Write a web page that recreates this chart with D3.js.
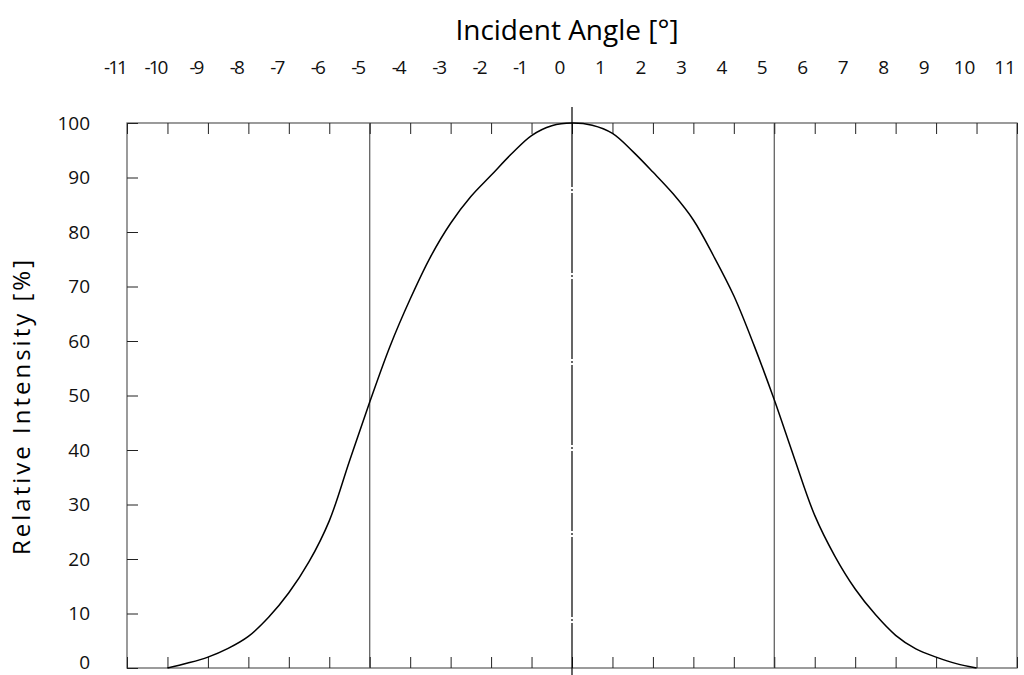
<!DOCTYPE html>
<html>
<head>
<meta charset="utf-8">
<script src="https://cdn.jsdelivr.net/npm/d3@7"></script>
<style>
  body { margin: 0; background: #fff; }
  svg { display: block; font-family: "Open Sans", "Noto Sans", sans-serif; }
</style>
</head>
<body>
<svg id="chart" width="1024" height="675"></svg>
<script>
// data
var angles = [-10, -9.5, -9, -8.5, -8, -7.5, -7, -6.5, -6, -5.5, -5, -4.5, -4, -3.5, -3, -2.5, -2, -1.5, -1, -0.5,
              0, 0.5, 1, 1.5, 2, 2.5, 3, 3.5, 4, 4.5, 5, 5.5, 6, 6.5, 7, 7.5, 8, 8.5, 9, 9.5, 10];
var intensity = [0, 0.9, 2.0, 3.6, 5.8, 9.3, 13.8, 19.5, 27, 38, 48.8, 59, 67.7, 75.4, 81.6, 86.5, 90.4, 94.3, 97.7, 99.5,
                 100, 99.6, 98.1, 94.8, 91, 87, 82.2, 75.6, 68.3, 59.2, 49.2, 38.4, 28, 20.5, 14.5, 9.8, 6, 3.5, 2, 0.8, 0];
var xTicks = d3.range(-11, 12);
var yTicks = d3.range(0, 101, 10);
var guideAngles = [-5, 5];
var xTitle = "Incident Angle [°]";
var yTitle = "Relative Intensity [%]";

var svg = d3.select("#chart");

var plotLeft = 127, plotRight = 1017, plotTop = 123, plotBottom = 668;

var xScale = d3.scaleLinear().domain([-11, 11]).range([plotLeft, plotRight]);
var yScale = d3.scaleLinear().domain([0, 100]).range([plotBottom, plotTop]);

// guide lines at +-5
svg.selectAll(".guide")
    .data(guideAngles)
    .enter().append("line")
    .attr("x1", d => xScale(d)).attr("x2", d => xScale(d))
    .attr("y1", plotTop).attr("y2", plotBottom)
    .attr("stroke", "#555").attr("stroke-width", 1.2);

// frame
svg.append("rect")
    .attr("x", plotLeft).attr("y", plotTop)
    .attr("width", plotRight - plotLeft).attr("height", plotBottom - plotTop)
    .attr("fill", "none").attr("stroke", "#666").attr("stroke-width", 1.3);

// top ticks (inward)
svg.append("g")
    .attr("transform", "translate(0," + plotTop + ")")
    .call(d3.axisBottom(xScale).tickValues(xTicks).tickSize(11).tickFormat(""))
    .call(g => g.select(".domain").remove())
    .call(g => g.selectAll("line").attr("stroke", "#222"));

// bottom ticks (inward)
svg.append("g")
    .attr("transform", "translate(0," + plotBottom + ")")
    .call(d3.axisTop(xScale).tickValues(xTicks).tickSize(11).tickFormat(""))
    .call(g => g.select(".domain").remove())
    .call(g => g.selectAll("line").attr("stroke", "#222"));

// x labels above the plot
svg.append("g")
    .selectAll("text")
    .data(xTicks)
    .enter().append("text")
    .attr("x", d => xScale(d) - 12)
    .attr("y", 74)
    .attr("text-anchor", "middle")
    .attr("font-size", 19)
    .attr("letter-spacing", d => d < 0 ? -2 : 0)
    .attr("fill", "#111")
    .text(d => d);

// y axis
svg.append("g")
    .attr("transform", "translate(" + plotLeft + ",0)")
    .call(d3.axisRight(yScale).tickValues(yTicks).tickSize(11).tickFormat(""))
    .call(g => g.select(".domain").remove())
    .call(g => g.selectAll("line").attr("stroke", "#222"));

svg.append("g")
    .selectAll("text")
    .data(yTicks)
    .enter().append("text")
    .attr("x", 90)
    .attr("y", d => yScale(d) - (d === 0 ? 6 : 0))
    .attr("dy", "0.35em")
    .attr("text-anchor", "end")
    .attr("font-size", 19)
    .attr("fill", "#111")
    .text(d => d);

// centre line, extends past the frame
svg.append("line")
    .attr("x1", xScale(0)).attr("x2", xScale(0))
    .attr("y1", plotTop - 16).attr("y2", 675)
    .attr("stroke", "#000").attr("stroke-width", 1.2)
    .attr("stroke-dasharray", "80,2,2,2");

// curve
var line = d3.line()
    .x((d, i) => xScale(angles[i]))
    .y(d => yScale(d))
    .curve(d3.curveCatmullRom);

svg.append("path")
    .datum(intensity)
    .attr("d", line)
    .attr("fill", "none")
    .attr("stroke", "#000")
    .attr("stroke-width", 1.5);

// titles
svg.append("text")
    .attr("x", 567).attr("y", 40)
    .attr("text-anchor", "middle")
    .attr("font-size", 28)
    .attr("fill", "#000")
    .text(xTitle);

svg.append("text")
    .attr("transform", "translate(30,406) rotate(-90)")
    .attr("text-anchor", "middle")
    .attr("font-size", 24)
    .attr("letter-spacing", 3)
    .attr("fill", "#000")
    .text(yTitle);
</script>
</body>
</html>
